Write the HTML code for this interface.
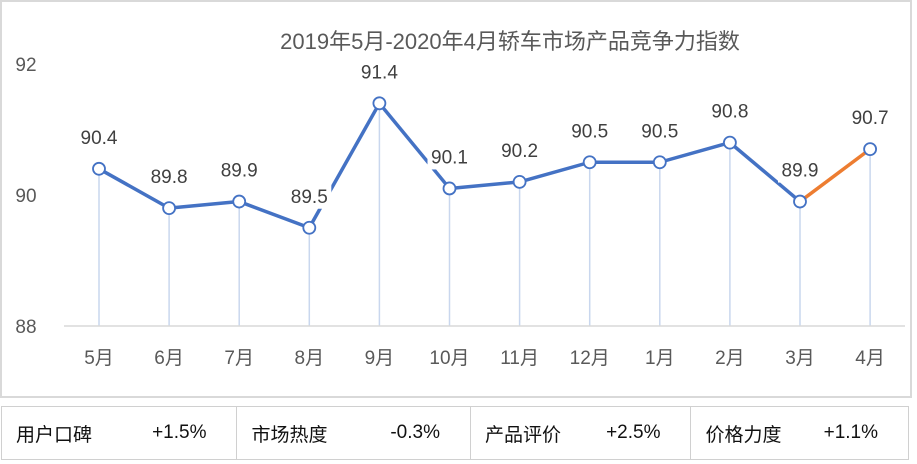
<!DOCTYPE html>
<html><head><meta charset="utf-8"><style>
body{margin:0;width:917px;height:464px;background:#fff;font-family:"Liberation Sans","Noto Sans CJK SC",sans-serif;overflow:hidden;position:relative}
#chart{position:absolute;left:0;top:0}
#tbl{position:absolute;left:1px;top:406px;width:908px;height:54px;border:1px solid #d0d0d0;box-sizing:border-box;display:flex}
.cell{border-right:1px solid #d0d0d0;display:flex;align-items:center;font-size:19px;color:#111;box-sizing:border-box;padding-left:14px}
.cell:last-child{border-right:none}
.cell span.v{margin-left:auto;margin-right:30px}
</style></head><body>
<svg id="chart" width="917" height="400">
<rect x="1" y="1" width="910" height="396" fill="#fff" stroke="#d9d9d9" stroke-width="2"/>
<text x="510" y="49" text-anchor="middle" font-size="22" fill="#595959">2019年5月-2020年4月轿车市场产品竞争力指数</text>
<g id="yaxis"></g>
<g id="drops"></g><g id="lines"></g><g id="labels"></g><g id="pts"></g><g id="xaxis"></g>
</svg>
<div id="tbl">
<div class="cell" style="width:236px">用户口碑<span class="v">+1.5%</span></div>
<div class="cell" style="width:234px">市场热度<span class="v">-0.3%</span></div>
<div class="cell" style="width:221px">产品评价<span class="v">+2.5%</span></div>
<div class="cell" style="width:217px">价格力度<span class="v">+1.1%</span></div>
</div>
<script>
const categories=["5月","6月","7月","8月","9月","10月","11月","12月","1月","2月","3月","4月"];
const values=[90.4,89.8,89.9,89.5,91.4,90.1,90.2,90.5,90.5,90.8,89.9,90.7];
const yTicks=[88,90,92];
const NS="http://www.w3.org/2000/svg";
const x=i=>99+i*70.1;
const y=v=>195-(v-90)*65.5;
function mk(parent,tag,attrs){const e=document.createElementNS(NS,tag);for(const k in attrs)e.setAttribute(k,attrs[k]);document.getElementById(parent).appendChild(e);return e;}
yTicks.forEach(t=>{const e=mk("yaxis","text",{x:26,y:y(t)+7,"text-anchor":"middle","font-size":19,fill:"#595959"});e.textContent=t;

});
const base=mk("xaxis","line",{x1:64,x2:905,y1:326,y2:326,stroke:"#d9d9d9","stroke-width":1.5});


categories.forEach((c,i)=>{const e=mk("xaxis","text",{x:x(i),y:364,"text-anchor":"middle","font-size":19,fill:"#595959"});e.textContent=c;


const d=mk("drops","line",{x1:x(i),x2:x(i),y1:y(values[i]),y2:326,stroke:"#c9d7ee","stroke-width":1.5});

});
for(let i=0;i<values.length-1;i++){const l=mk("lines","line",{x1:x(i),y1:y(values[i]),x2:x(i+1),y2:y(values[i+1]),stroke:i===values.length-2?"#ed7d31":"#4472c4","stroke-width":3.5});

}
values.forEach((v,i)=>{const w=44,ly=y(v)-25;
const r=mk("labels","rect",{x:x(i)-w/2,y:ly-20,width:w,height:26,fill:"#fff"});


const t=mk("labels","text",{x:x(i),y:ly,"text-anchor":"middle","font-size":19,fill:"#404040"});t.textContent=v.toFixed(1);


const c=mk("pts","circle",{cx:x(i),cy:y(v),r:6,fill:"#fff",stroke:"#4472c4","stroke-width":1.8});

});
</script>
</body></html>
